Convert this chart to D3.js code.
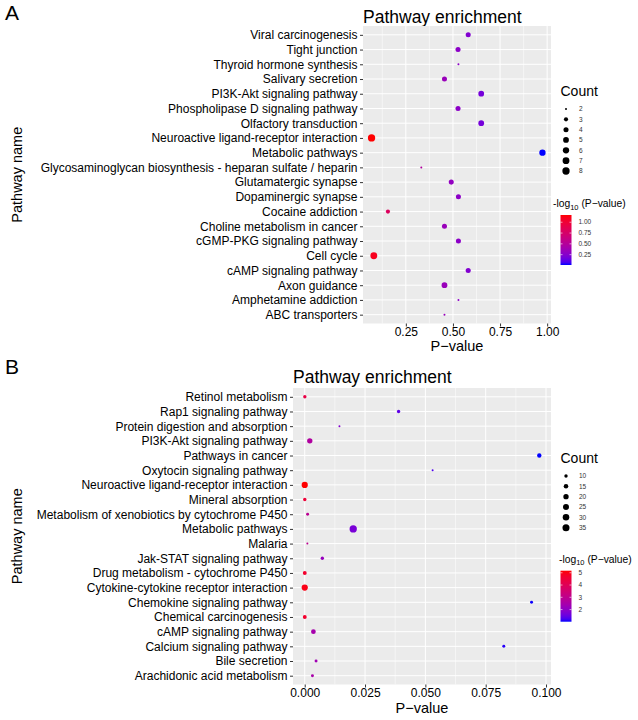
<!DOCTYPE html>
<html><head><meta charset="utf-8">
<script src="https://cdn.jsdelivr.net/npm/d3@7"></script>
<style>body{margin:0;background:#fff} text{font-family:"Liberation Sans",Arial,sans-serif}</style>
</head><body>
<svg id="chart" width="638" height="720"></svg>
<script>
// ---------- Panel A data (top to bottom) ----------
const pathwaysA = ["Viral carcinogenesis","Tight junction","Thyroid hormone synthesis","Salivary secretion",
  "PI3K-Akt signaling pathway","Phospholipase D signaling pathway","Olfactory transduction",
  "Neuroactive ligand-receptor interaction","Metabolic pathways",
  "Glycosaminoglycan biosynthesis - heparan sulfate / heparin","Glutamatergic synapse","Dopaminergic synapse",
  "Cocaine addiction","Choline metabolism in cancer","cGMP-PKG signaling pathway","Cell cycle",
  "cAMP signaling pathway","Axon guidance","Amphetamine addiction","ABC transporters"];
const pValuesA = [0.581,0.527,0.529,0.455,0.650,0.527,0.650,0.068,0.975,0.332,0.491,0.529,0.155,0.455,0.529,0.080,0.581,0.455,0.529,0.455];
const countsA  = [4,4,2,4,5,4,5,8,6,2,4,4,3,4,4,7,4,5,2,2];
const xTicksA = [0.25,0.50,0.75,1.00];
const xTickLabelsA = ["0.25","0.50","0.75","1.00"];
const countLegendA = [2,3,4,5,6,7,8];
const colorTicksA = [0.25,0.50,0.75,1.00];
const colorTickLabelsA = ["0.25","0.50","0.75","1.00"];

// ---------- Panel B data (top to bottom) ----------
const pathwaysB = ["Retinol metabolism","Rap1 signaling pathway","Protein digestion and absorption",
  "PI3K-Akt signaling pathway","Pathways in cancer","Oxytocin signaling pathway",
  "Neuroactive ligand-receptor interaction","Mineral absorption",
  "Metabolism of xenobiotics by cytochrome P450","Metabolic pathways","Malaria","Jak-STAT signaling pathway",
  "Drug metabolism - cytochrome P450","Cytokine-cytokine receptor interaction","Chemokine signaling pathway",
  "Chemical carcinogenesis","cAMP signaling pathway","Calcium signaling pathway","Bile secretion",
  "Arachidonic acid metabolism"];
const pValuesB = [5e-5,0.0389,0.0144,0.0021,0.0972,0.053,6.8e-6,3e-5,0.0012,0.0201,0.0011,0.0073,2e-5,1e-5,0.094,2e-5,0.0036,0.0825,0.0047,0.0032];
const countsB  = [10,10,8,20,14,8,27,10,9,38,8,10,12,27,9,12,16,9,9,9];
const xTicksB = [0,0.025,0.050,0.075,0.100];
const xTickLabelsB = ["0.000","0.025","0.050","0.075","0.100"];
const countLegendB = [10,15,20,25,30,35];
const colorTicksB = [2,3,4,5];
const colorTickLabelsB = ["2","3","4","5"];

const svg = d3.select("#chart");
const FONT = '"Liberation Sans",Arial,sans-serif';

function drawPanel(cfg){
  const g = svg.append("g");
  const {left,right,top,bottom} = cfg;
  g.append("text").attr("x",cfg.letterX).attr("y",cfg.letterY).attr("font-size",21).text(cfg.letter);
  g.append("text").attr("x",left).attr("y",cfg.titleY).attr("font-size",17.5).text("Pathway enrichment");

  const pmin = d3.min(cfg.pValues), pmax = d3.max(cfg.pValues), pr = pmax-pmin;
  const x = d3.scaleLinear().domain([pmin-0.05*pr, pmax+0.05*pr]).range([left,right]);
  const y = d3.scalePoint().domain(cfg.pathways).range([top,bottom]).padding(0.6);
  const lp = cfg.pValues.map(p=>-Math.log10(p));
  const lext = d3.extent(lp);
  const color = d3.scaleLinear().domain(lext).range(["blue","red"]).interpolate(d3.interpolateLab);
  const cmin = d3.min(cfg.counts), cmax = d3.max(cfg.counts);
  const diam = c => 2 + 5.3*Math.sqrt(Math.max(0,(c-cmin))/(cmax-cmin));

  g.append("rect").attr("x",left).attr("y",top).attr("width",right-left).attr("height",bottom-top).attr("fill","#EBEBEB");
  const step = cfg.xTicks[1]-cfg.xTicks[0];
  const ext = [cfg.xTicks[0]-step, ...cfg.xTicks, cfg.xTicks[cfg.xTicks.length-1]+step];
  const minor = [];
  for(let i=0;i<ext.length-1;i++){ const m=(ext[i]+ext[i+1])/2; const px=x(m); if(px>left&&px<right) minor.push(m); }
  g.selectAll(".minor").data(minor).enter().append("line")
    .attr("x1",d=>x(d)).attr("x2",d=>x(d)).attr("y1",top).attr("y2",bottom)
    .attr("stroke","#fff").attr("stroke-width",0.5);
  g.selectAll(".majx").data(cfg.xTicks).enter().append("line")
    .attr("x1",d=>x(d)).attr("x2",d=>x(d)).attr("y1",top).attr("y2",bottom)
    .attr("stroke","#fff").attr("stroke-width",1);
  g.selectAll(".majy").data(cfg.pathways).enter().append("line")
    .attr("x1",left).attr("x2",right).attr("y1",d=>y(d)).attr("y2",d=>y(d))
    .attr("stroke","#fff").attr("stroke-width",1);

  const xa = g.append("g").attr("transform",`translate(0,${bottom})`)
    .call(d3.axisBottom(x).tickValues(cfg.xTicks).tickFormat((d,i)=>cfg.xTickLabels[i]).tickSize(3).tickPadding(1));
  const ya = g.append("g").attr("transform",`translate(${left},0)`)
    .call(d3.axisLeft(y).tickSize(3).tickPadding(2.5));
  [xa,ya].forEach(a=>{
    a.select(".domain").remove();
    a.selectAll(".tick line").attr("stroke","#333");
    a.selectAll(".tick text").attr("fill","#000").attr("font-size",12).attr("font-family",FONT);
  });

  const data = cfg.pathways.map((name,i)=>({name,p:cfg.pValues[i],c:cfg.counts[i],l:lp[i]}));
  g.selectAll(".pt").data(data).enter().append("circle")
    .attr("cx",d=>x(d.p)).attr("cy",d=>y(d.name)).attr("r",d=>diam(d.c)/2)
    .attr("fill",d=>color(d.l));

  g.append("text").attr("x",(left+right)/2).attr("y",cfg.xTitleY).attr("text-anchor","middle")
    .attr("font-size",14.5).text("P\u2212value");
  g.append("text").attr("transform",`translate(${cfg.yTitleX},${(top+bottom)/2}) rotate(-90)`)
    .attr("text-anchor","middle").attr("font-size",14.5).text("Pathway name");

  const lx = cfg.legendX;
  g.append("text").attr("x",lx).attr("y",cfg.countTitleY).attr("font-size",14).text("Count");
  cfg.countLegend.forEach((c,i)=>{
    const cy = cfg.countKeyY0 + i*10.33;
    g.append("circle").attr("cx",lx+5.5).attr("cy",cy).attr("r",diam(c)/2).attr("fill","#000");
    g.append("text").attr("x",lx+18.5).attr("y",cy+2.2).attr("font-size",6.5).attr("fill","#333").text(c);
  });

  const ct = g.append("text").attr("x",cfg.colorTitleX).attr("y",cfg.colorTitleY).attr("font-size",10.3);
  ct.append("tspan").text("-log");
  ct.append("tspan").attr("font-size",7.5).attr("dy",2.5).text("10");
  ct.append("tspan").attr("dy",-2.5).text(" (P\u2212value)");
  const gradId = "grad"+cfg.letter;
  const grad = svg.append("defs").append("linearGradient").attr("id",gradId)
    .attr("x1",0).attr("y1",1).attr("x2",0).attr("y2",0);
  d3.range(0,1.0001,0.05).forEach(t=>{
    grad.append("stop").attr("offset",t).attr("stop-color",color(lext[0]+t*(lext[1]-lext[0])));
  });
  const bw = 11;
  g.append("rect").attr("x",lx).attr("y",cfg.barTop).attr("width",bw).attr("height",cfg.barBottom-cfg.barTop)
    .attr("fill",`url(#${gradId})`);
  const cy = d3.scaleLinear().domain(lext).range([cfg.barBottom,cfg.barTop]);
  cfg.colorTicks.forEach((v,i)=>{
    const yy = cy(v);
    g.append("line").attr("x1",lx).attr("x2",lx+2).attr("y1",yy).attr("y2",yy).attr("stroke","#fff").attr("stroke-width",0.6);
    g.append("line").attr("x1",lx+bw-2).attr("x2",lx+bw).attr("y1",yy).attr("y2",yy).attr("stroke","#fff").attr("stroke-width",0.6);
    g.append("text").attr("x",lx+18).attr("y",yy+2.2).attr("font-size",6.5).attr("fill","#333").text(cfg.colorTickLabels[i]);
  });
}

drawPanel({letter:"A",letterX:5,letterY:20,titleY:23,left:363,right:551,top:26,bottom:323.5,
  pathways:pathwaysA,pValues:pValuesA,counts:countsA,xTicks:xTicksA,xTickLabels:xTickLabelsA,
  xTitleY:351,yTitleX:22,legendX:560.5,countTitleY:96,countKeyY0:109,countLegend:countLegendA,
  colorTitleX:553,colorTitleY:207,barTop:215,barBottom:265,colorTicks:colorTicksA,colorTickLabels:colorTickLabelsA});

drawPanel({letter:"B",letterX:5,letterY:374,titleY:383,left:293,right:551,top:388,bottom:684.5,
  pathways:pathwaysB,pValues:pValuesB,counts:countsB,xTicks:xTicksB,xTickLabels:xTickLabelsB,
  xTitleY:713,yTitleX:22,legendX:560.5,countTitleY:462.5,countKeyY0:476,countLegend:countLegendB,
  colorTitleX:559,colorTitleY:562.5,barTop:570.7,barBottom:621.7,colorTicks:colorTicksB,colorTickLabels:colorTickLabelsB});
</script>
</body></html>
